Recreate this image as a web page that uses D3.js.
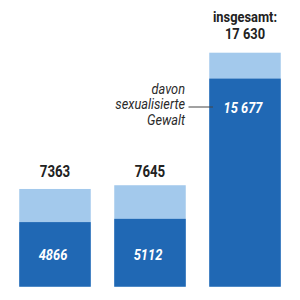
<!DOCTYPE html>
<html><head><meta charset="utf-8">
<script src="https://cdn.jsdelivr.net/npm/d3@7"></script>
<style>body{margin:0;background:#fff}svg{display:block}text{font-family:Roboto,sans-serif}</style>
</head><body>
<script>
const categories = ["a", "b", "c"];
const totals = [7363, 7645, 17630];
const sexual = [4866, 5112, 15677];
const totalLabels = ["7363", "7645", "17 630"];
const sexualLabels = ["4866", "5112", "15 677"];
const headLabel = "insgesamt:";
const annotation = ["davon", "sexualisierte", "Gewalt"];

const W = 300, H = 300;
const SX = 0.83; // condensed look
const svg = d3.select("body").append("svg").attr("width", W).attr("height", H);
const x = d3.scaleBand().domain(categories).range([0, 300]).paddingInner(0.2474).paddingOuter(0.2026);
const y = d3.scaleLinear().domain([0, 17630]).range([286.7, 52.7]);

const g = svg.append("g");
g.selectAll("rect.tot").data(categories).join("rect")
  .attr("x", d => x(d)).attr("width", x.bandwidth())
  .attr("y", (d, i) => y(totals[i])).attr("height", (d, i) => y(0) - y(totals[i]))
  .attr("fill", "#a3c9ec");
g.selectAll("rect.sex").data(categories).join("rect")
  .attr("x", d => x(d)).attr("width", x.bandwidth())
  .attr("y", (d, i) => y(sexual[i])).attr("height", (d, i) => y(0) - y(sexual[i]))
  .attr("fill", "#2068b4");

function label(px, py, txt, opts) {
  const t = g.append("g").attr("transform", `translate(${px},${py}) scale(${opts.sx || SX},1)`)
    .append("text").attr("text-anchor", opts.anchor || "middle")
    .attr("fill", opts.fill || "#222")
    .attr("font-size", opts.size).attr("font-weight", opts.weight || 400)
    .attr("font-style", opts.style || "normal").text(txt);
  return t;
}

// inner labels
categories.forEach((d, i) => {
  label(x(d) + x.bandwidth() / 2 - 2, i < 2 ? 260 : 112.5, sexualLabels[i],
    { size: 15.5, weight: 700, style: "italic", fill: "#fff" });
});

// total labels of the first two bars
categories.slice(0, 2).forEach((d, i) => {
  label(x(d) + x.bandwidth() / 2, 177, totalLabels[i], { size: 16, weight: 700 });
});

const c3 = x("c") + x.bandwidth() / 2;
label(c3, 22, headLabel, { size: 15.5, weight: 700 });
label(c3, 39, totalLabels[2], { size: 15.5, weight: 700 });

// annotation
annotation.forEach((t, i) => label(185, 93.5 + i * 15.5, t, { size: 14.5, style: "italic", anchor: "end", sx: 0.88, fill: "#2a2a2a" }));
g.append("line").attr("x1", 188.5).attr("x2", 213).attr("y1", 107).attr("y2", 107)
  .attr("stroke", "#444").attr("stroke-width", 1);
</script>
</body></html>
